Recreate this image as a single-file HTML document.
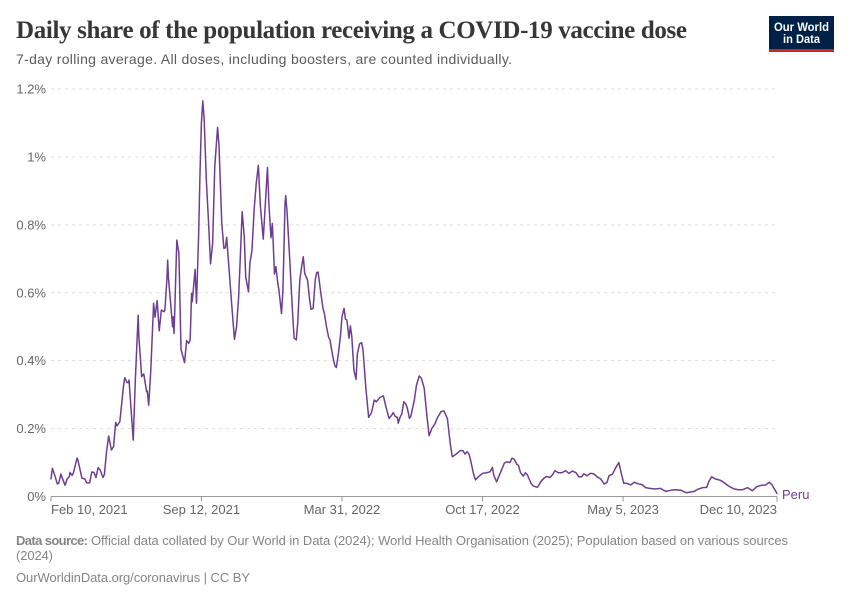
<!DOCTYPE html>
<html lang="en">
<head>
<meta charset="utf-8">
<title>Daily share of the population receiving a COVID-19 vaccine dose</title>
<style>
html,body{margin:0;padding:0;background:#fff;width:850px;height:600px;overflow:hidden}
svg{display:block;font-family:"Liberation Sans",sans-serif}
</style>
</head>
<body>
<svg id="chart" xmlns="http://www.w3.org/2000/svg" width="850" height="600" viewBox="0 0 850 600">
<rect width="850" height="600" fill="#fff"/>
<text x="16" y="38" font-family="'Liberation Serif',serif" font-weight="700" font-size="25" fill="#373737" textLength="671" lengthAdjust="spacing">Daily share of the population receiving a COVID-19 vaccine dose</text>
<text x="16" y="64" font-size="14" fill="#5b5b5b" textLength="496" lengthAdjust="spacing">7-day rolling average. All doses, including boosters, are counted individually.</text>
<g>
<rect x="769" y="16" width="65" height="36" fill="#002147"/>
<rect x="769" y="49" width="65" height="3" fill="#ce261e"/>
<text x="801.5" y="31" text-anchor="middle" font-size="11.5" font-weight="700" fill="#fff" textLength="55" lengthAdjust="spacingAndGlyphs">Our World</text>
<text x="801.5" y="43" text-anchor="middle" font-size="11.5" font-weight="700" fill="#fff" textLength="37" lengthAdjust="spacingAndGlyphs">in Data</text>
</g>
<g id="y-axis"></g>
<g id="x-axis"></g>
<g id="series"></g>
<text x="16" y="545" font-size="13" font-weight="700" fill="#858585" textLength="72" lengthAdjust="spacing">Data source:</text>
<text x="91" y="545" font-size="13" fill="#858585" textLength="697" lengthAdjust="spacing">Official data collated by Our World in Data (2024); World Health Organisation (2025); Population based on various sources</text>
<text x="16" y="560" font-size="13" fill="#858585" textLength="37" lengthAdjust="spacing">(2024)</text>
<text x="16" y="582" font-size="13" fill="#858585" textLength="234" lengthAdjust="spacing">OurWorldinData.org/coronavirus | CC BY</text>
</svg>
<script>
const daysSinceStart = [
0,2,6,9,11,14,18,20,23,26,
27,30,32,37,38,44,48,51,55,58,
61,64,67,70,74,76,79,82,86,89,
92,94,98,103,105,108,110,111,117,120,
124,125,127,129,132,136,137,139,142,146,
148,151,154,157,161,162,165,166,167,173,
174,175,176,179,182,185,190,193,196,198,
200,201,205,207,210,212,214,216,218,221,
224,227,230,233,237,239,243,246,248,250,
252,257,261,264,267,270,272,275,277,281,
283,286,289,292,295,298,302,305,308,310,
313,315,318,320,323,324,328,330,333,334,
336,340,344,346,349,351,354,357,359,361,
365,368,370,373,376,378,380,384,387,389,
392,395,397,401,404,406,409,412,414,417,
419,421,424,426,428,431,434,436,439,442,
444,448,452,456,460,463,468,473,476,481,
485,487,490,493,494,497,499,502,505,507,
510,512,517,520,524,527,531,535,538,542,
546,550,555,559,564,568,571,576,582,586,
589,592,595,598,601,604,608,614,620,625,
628,630,634,639,645,648,653,656,659,663,
665,668,672,675,678,683,686,692,697,702,
705,710,714,717,722,727,732,737,742,747,
751,755,758,763,767,772,777,782,787,791,
794,799,803,808,812,815,819,825,830,836,
841,846,852,860,867,875,883,890,897,904,
909,915,921,927,933,936,940,945,952,957,
964,971,978,984,991,998,1004,1011,1017,1022,
1026,1033];
const peruShare = [
.052,.083,.058,.037,.039,.066,.044,.033,.052,.058,
.071,.062,.07,.113,.11,.054,.052,.04,.04,.072,
.071,.056,.085,.078,.056,.065,.132,.178,.137,.147,
.218,.208,.221,.323,.35,.336,.335,.343,.166,.343,
.534,.471,.412,.353,.361,.309,.311,.269,.372,.569,
.528,.577,.488,.549,.544,.549,.642,.696,.647,.5,
.529,.48,.54,.755,.716,.433,.394,.459,.451,.461,
.598,.574,.669,.569,.765,.952,1.1,1.165,1.109,.932,
.814,.685,.746,.971,1.087,1.035,.804,.731,.732,.763,
.706,.569,.463,.5,.588,.736,.839,.765,.647,.603,
.687,.726,.844,.922,.975,.853,.758,.863,.969,.863,
.762,.804,.655,.677,.623,.613,.539,.608,.863,.886,
.834,.687,.529,.466,.461,.51,.638,.682,.706,.657,
.638,.579,.551,.554,.638,.659,.661,.598,.554,.539,
.5,.469,.461,.412,.384,.38,.422,.476,.529,.554,
.522,.52,.466,.502,.471,.372,.345,.422,.449,.453,
.431,.319,.233,.247,.284,.279,.292,.296,.269,.23,
.24,.247,.235,.233,.216,.235,.242,.279,.272,.26,
.23,.237,.284,.328,.355,.348,.319,.235,.179,.201,
.213,.233,.25,.252,.23,.157,.117,.124,.135,.135,
.125,.132,.124,.098,.068,.049,.058,.068,.07,.073,
.086,.063,.043,.068,.098,.102,.1,.113,.11,.094,
.092,.071,.06,.07,.063,.039,.031,.027,.044,.055,
.059,.056,.065,.076,.07,.07,.076,.068,.075,.07,
.058,.058,.067,.061,.068,.067,.058,.052,.037,.041,
.061,.066,.083,.1,.063,.039,.039,.034,.042,.037,
.035,.026,.024,.022,.024,.015,.019,.02,.018,.011,
.013,.015,.022,.026,.027,.044,.058,.052,.048,.042,
.031,.023,.02,.02,.026,.017,.029,.033,.034,.042,
.034,.009];
const yTickValues = [0,0.2,0.4,0.6,0.8,1,1.2];
const yTickLabels = ["0%","0.2%","0.4%","0.6%","0.8%","1%","1.2%"];
const xTickDays = [0,214,414,614,814,1033];
const xTickLabels = ["Feb 10, 2021","Sep 12, 2021","Mar 31, 2022","Oct 17, 2022","May 5, 2023","Dec 10, 2023"];
const seriesName = "Peru";

const NS = "http://www.w3.org/2000/svg";
const plot = {left:51, right:777, top:89, bottom:496.5, maxDay:1033, maxValue:1.2};
function xScale(day){ return plot.left + (day / plot.maxDay) * (plot.right - plot.left); }
function yScale(value){ return plot.bottom - (value / plot.maxValue) * (plot.bottom - plot.top); }
function make(tag, attrs, parent){
  const el = document.createElementNS(NS, tag);
  for (const k in attrs) el.setAttribute(k, attrs[k]);
  parent.appendChild(el);
  return el;
}

const yAxis = document.getElementById("y-axis");
yTickValues.forEach(function(v, i){
  const y = yScale(v);
  if (v !== 0) {
    const grid = make("line", {x1:plot.left, x2:775, y1:y, y2:y, stroke:"#dddddd", "stroke-width":1, "stroke-dasharray":"3,4"}, yAxis);
    
    
  }
  const label = make("text", {x:46, y:y + 4.5, "text-anchor":"end", "font-size":13, fill:"#666666"}, yAxis);
  label.textContent = yTickLabels[i];
  
  
});

const xAxis = document.getElementById("x-axis");
const axisLine = make("line", {x1:plot.left, x2:plot.right, y1:plot.bottom, y2:plot.bottom, stroke:"#999999", "stroke-width":1}, xAxis);


xTickDays.forEach(function(d, i){
  const x = xScale(d);
  const tick = make("line", {x1:x, x2:x, y1:plot.bottom, y2:plot.bottom + 5, stroke:"#999999", "stroke-width":1}, xAxis);
  
  
  const anchor = i === 0 ? "start" : (i === xTickDays.length - 1 ? "end" : "middle");
  const label = make("text", {x:x, y:514, "text-anchor":anchor, "font-size":13, fill:"#666666"}, xAxis);
  label.textContent = xTickLabels[i];
  
  
});

const seriesGroup = document.getElementById("series");
const pts = daysSinceStart.map(function(d, i){ return xScale(d).toFixed(2) + "," + yScale(peruShare[i]).toFixed(2); });
const line = make("polyline", {points:pts.join(" "), fill:"none", stroke:"#6D3E91", "stroke-width":1.5, "stroke-linejoin":"round", "stroke-linecap":"round"}, seriesGroup);


const lastIndex = daysSinceStart.length - 1;
const seriesLabel = make("text", {x:xScale(daysSinceStart[lastIndex]) + 5, y:yScale(peruShare[lastIndex]) + 5.5, "font-size":13, fill:"#6D3E91"}, seriesGroup);
seriesLabel.textContent = seriesName;


</script>
</body>
</html>
